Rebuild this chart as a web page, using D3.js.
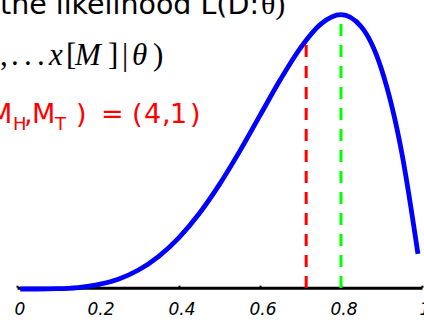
<!DOCTYPE html>
<html>
<head>
<meta charset="utf-8">
<script src="https://cdn.jsdelivr.net/npm/d3@7"></script>
<style>
  html, body { margin: 0; padding: 0; background: #fff; }
  svg { display: block; }
</style>
</head>
<body>
<svg id="chart" width="424" height="320"></svg>
<script>
// ---- data ----
const theta      = [0.008, 0.05, 0.10, 0.15, 0.20, 0.25, 0.30, 0.35, 0.40, 0.45, 0.50,
                    0.55, 0.60, 0.65, 0.70, 0.75, 0.80, 0.85, 0.90, 0.95, 0.99];
const likelihood = [0.0000, 0.000006, 0.00009, 0.00043, 0.00128, 0.00293, 0.00567, 0.00976,
                    0.01536, 0.02255, 0.03125, 0.04117, 0.05184, 0.06248, 0.07203, 0.07910,
                    0.08192, 0.07830, 0.06561, 0.04073, 0.0105];
const xTicks      = [0, 0.2, 0.4, 0.6, 0.8, 1];
const xTickLabels = ["0", "0.2", "0.4", "0.6", "0.8", "1"];
const mleTheta    = 0.8;      // green dashed line
const mleTop      = 0.0819;
const otherTheta  = 0.714;    // red dashed line
const otherTop    = 0.0729;

// ---- drawing ----
const svg = d3.select("#chart");
const x = d3.scaleLinear().domain([0, 1]).range([17, 422]);
const y = d3.scaleLinear().domain([0, 0.08192]).range([289, 14.7]);

// axis
const axis = d3.axisBottom(x)
  .tickValues(xTicks)
  .tickFormat((d, i) => xTickLabels[i])
  .tickSizeInner(-2)
  .tickSizeOuter(0)
  .tickPadding(15);

const gAxis = svg.append("g")
  .attr("transform", "translate(0,287.7)")
  .call(axis);
gAxis.select(".domain").attr("stroke", "#000").attr("stroke-width", 3);
gAxis.selectAll(".tick line").attr("stroke", "#000").attr("stroke-width", 2);
gAxis.selectAll(".tick text")
  .attr("fill", "#000")
  .attr("dx", 2.5)
  .style("font-family", "'DejaVu Sans', Verdana, sans-serif")
  .style("font-style", "oblique")
  .style("font-size", "17px");

// likelihood curve
const line = d3.line()
  .x((d, i) => x(theta[i]))
  .y(d => y(d))
  .curve(d3.curveMonotoneX);

svg.append("path")
  .datum(likelihood)
  .attr("d", line)
  .attr("fill", "none")
  .attr("stroke", "#0000ff")
  .attr("stroke-width", 4.8);

// dashed vertical lines
svg.append("line")
  .attr("x1", x(otherTheta)).attr("x2", x(otherTheta))
  .attr("y1", y(otherTop)).attr("y2", y(0))
  .attr("stroke", "#ff0000").attr("stroke-width", 3)
  .attr("stroke-dasharray", "12,9");

svg.append("line")
  .attr("x1", x(mleTheta)).attr("x2", x(mleTheta))
  .attr("y1", y(mleTop)).attr("y2", y(0))
  .attr("stroke", "#00ff00").attr("stroke-width", 3)
  .attr("stroke-dasharray", "12,9")
  .attr("stroke-dashoffset", 11.7);

// ---- texts ----
const sans = "'DejaVu Sans', Verdana, sans-serif";
const serif = "'Liberation Serif', 'Times New Roman', serif";

svg.append("text")
  .attr("x", 0).attr("y", 14)
  .attr("font-family", sans).attr("font-size", 28)
  .attr("textLength", 259).attr("lengthAdjust", "spacingAndGlyphs")
  .attr("fill", "#000")
  .text("the likelihood L(D:");
svg.append("text")
  .attr("x", 261).attr("y", 14)
  .attr("font-family", serif).attr("font-size", 30)
  .attr("fill", "#000")
  .text("θ)");

// second line: ,...x[M]|θ)
const eq = [
  {t: ",", x: 0, it: false},
  {t: ".", x: 11, it: false},
  {t: ".", x: 24, it: false},
  {t: ".", x: 37, it: false},
  {t: "x", x: 49, it: true},
  {t: "[", x: 66, it: false},
  {t: "M", x: 75, it: true},
  {t: "]", x: 108, it: false},
  {t: "|", x: 122, it: false},
  {t: "θ", x: 132, it: true},
  {t: ")", x: 153, it: false}
];
svg.append("g").selectAll("text")
  .data(eq).join("text")
  .attr("x", d => d.x).attr("y", 65)
  .attr("font-family", serif).attr("font-size", 31)
  .attr("font-style", d => d.it ? "italic" : "normal")
  .attr("fill", "#000")
  .text(d => d.t);

// third line (red): M_H,M_T ) = (4,1)
const red = [
  {t: "M", x: -11, s: 27, y: 123},
  {t: "H", x: 13, s: 18, y: 130},
  {t: ",", x: 24, s: 27, y: 123},
  {t: "M", x: 32, s: 27, y: 123},
  {t: "T", x: 55, s: 18, y: 130},
  {t: ")", x: 76, s: 27, y: 123},
  {t: "=", x: 101, s: 27, y: 123},
  {t: "(", x: 132, s: 27, y: 123},
  {t: "4", x: 144, s: 27, y: 123},
  {t: ",", x: 162, s: 27, y: 123},
  {t: "1", x: 170, s: 27, y: 123},
  {t: ")", x: 190, s: 27, y: 123}
];
svg.append("g").selectAll("text")
  .data(red).join("text")
  .attr("x", d => d.x).attr("y", d => d.y)
  .attr("font-family", sans).attr("font-size", d => d.s)
  .attr("fill", "#ff0000")
  .text(d => d.t);
</script>
</body>
</html>
